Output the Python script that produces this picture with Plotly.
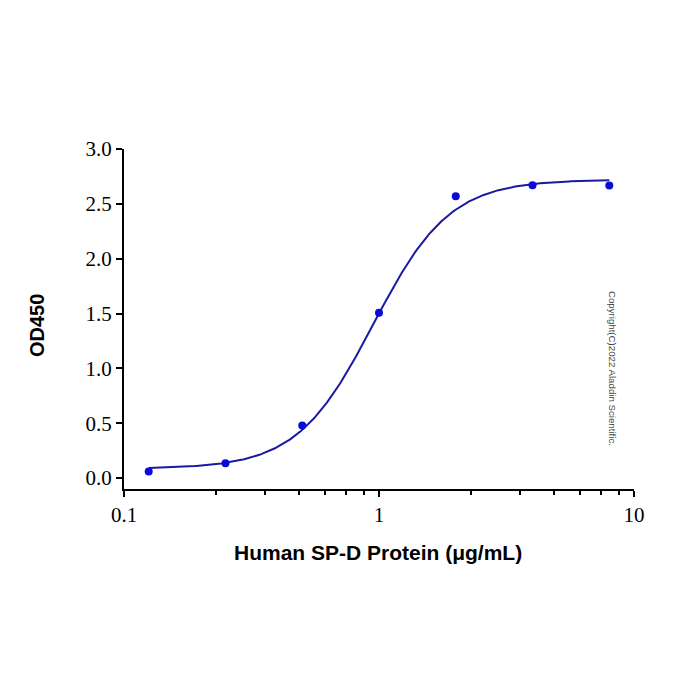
import numpy as np
import plotly.graph_objects as go

# Data
conc = [0.125, 0.25, 0.5, 1, 2, 4, 8]          # µg/mL
od450 = [0.06, 0.134, 0.48, 1.507, 2.57, 2.67, 2.668]

# 4-parameter logistic fit parameters
fit_bottom = 0.085
fit_top = 2.72
fit_ec50 = 0.95
fit_hill = 2.9

x_ticks = [0.1, 1, 10]
x_ticklabels = ["0.1", "1", "10"]
y_ticks = [0.0, 0.5, 1.0, 1.5, 2.0, 2.5, 3.0]
minor_x = [0.23, 0.357, 0.485, 0.613, 0.74, 0.87, 2.3, 3.57, 4.85, 6.13, 7.4, 8.7]

xc = np.logspace(np.log10(conc[0]), np.log10(conc[-1]), 300)
yc = fit_bottom + (fit_top - fit_bottom) / (1 + (fit_ec50 / xc) ** fit_hill)

fig = go.Figure()
fig.add_trace(go.Scatter(x=xc, y=yc, mode="lines",
                         line=dict(color="#1a1aa0", width=2), hoverinfo="skip"))
fig.add_trace(go.Scatter(x=conc, y=od450, mode="markers",
                         marker=dict(color="#0a0ad8", size=8)))

fig.update_layout(
    width=700, height=700,
    margin=dict(l=124, r=66, t=149, b=211),
    plot_bgcolor="white", paper_bgcolor="white",
    showlegend=False,
    xaxis=dict(type="log", range=[-1, 1], tickvals=x_ticks, ticktext=x_ticklabels,
               showgrid=False, zeroline=False, showline=True, linecolor="black",
               linewidth=2, ticks="outside", ticklen=6, tickwidth=2, tickcolor="black",
               tickfont=dict(family="Liberation Serif", size=21, color="black"),
               minor=dict(tickvals=minor_x, ticks="outside", ticklen=4, tickwidth=2,
                          tickcolor="black", showgrid=False)),
    yaxis=dict(range=[-0.1, 3.0], tickvals=y_ticks, tickformat=".1f",
               showgrid=False, zeroline=False, showline=True, linecolor="black",
               linewidth=2, ticks="outside", ticklen=6, tickwidth=2, tickcolor="black",
               tickfont=dict(family="Liberation Serif", size=21, color="black")),
    annotations=[
        dict(text="<b>Human SP-D Protein (μg/mL)</b>", xref="paper", yref="paper",
             x=0.498, y=-0.188, showarrow=False, xanchor="center", yanchor="middle",
             font=dict(family="Liberation Sans", size=21, color="black")),
        dict(text="<b>OD450</b>", xref="paper", yref="paper",
             x=-0.1706, y=0.482, showarrow=False, textangle=-90,
             xanchor="center", yanchor="middle",
             font=dict(family="Liberation Sans", size=20, color="black")),
        dict(text="Copyright(C)2022 Aladdin Scientific.", xref="paper", yref="paper",
             x=0.957, y=0.356, showarrow=False, textangle=90,
             xanchor="center", yanchor="middle",
             font=dict(family="Liberation Sans", size=9.7, color="#444444")),
    ],
)

fig.write_html("out.html")
